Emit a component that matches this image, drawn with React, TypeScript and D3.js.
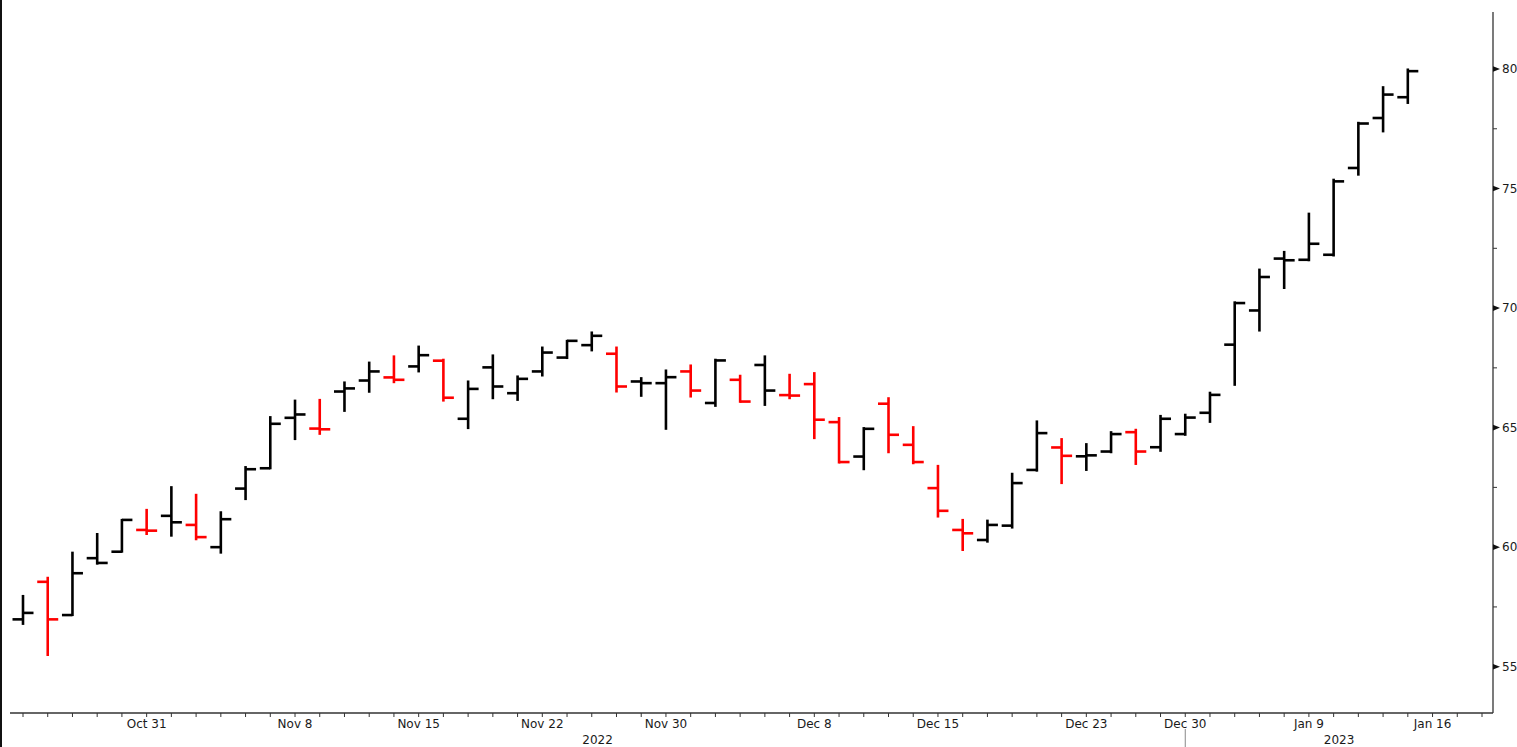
import React from "react";
import * as d3 from "d3";

const dates: string[] = [
  "2022-10-24","2022-10-25","2022-10-26","2022-10-27","2022-10-28",
  "2022-10-31","2022-11-01","2022-11-02","2022-11-03","2022-11-04",
  "2022-11-07","2022-11-08","2022-11-09","2022-11-10","2022-11-11",
  "2022-11-14","2022-11-15","2022-11-16","2022-11-17","2022-11-18",
  "2022-11-21","2022-11-22","2022-11-23","2022-11-25",
  "2022-11-28","2022-11-29","2022-11-30","2022-12-01","2022-12-02",
  "2022-12-05","2022-12-06","2022-12-07","2022-12-08","2022-12-09",
  "2022-12-12","2022-12-13","2022-12-14","2022-12-15","2022-12-16",
  "2022-12-19","2022-12-20","2022-12-21","2022-12-22","2022-12-23",
  "2022-12-27","2022-12-28","2022-12-29","2022-12-30",
  "2023-01-03","2023-01-04","2023-01-05","2023-01-06",
  "2023-01-09","2023-01-10","2023-01-11","2023-01-12","2023-01-13",
];
// axis continues past the last bar
const futureDates: string[] = ["2023-01-16", "2023-01-17", "2023-01-18"];

const open: number[] = [
  56.98, 58.55, 57.16, 59.54, 59.81,
  60.72, 61.31, 60.93, 60.0, 62.45,
  63.3, 65.41, 64.96, 66.51, 66.97,
  67.1, 67.56, 67.8, 65.37, 67.52,
  66.44, 67.35, 67.93, 68.45,
  68.09, 66.93, 66.86, 67.35, 66.03,
  67.0, 67.62, 66.36, 66.82, 65.23,
  63.79, 66.0, 64.28, 62.47, 60.72,
  60.3, 60.9, 63.23, 64.17, 63.8,
  64.0, 64.81, 64.18, 64.73,
  65.62, 68.47, 69.9, 72.07,
  72.02, 72.23, 75.86, 77.95, 78.82,
];
const high: number[] = [
  57.96, 58.72, 59.77, 60.55, 61.14,
  61.56, 62.51, 62.19, 61.46, 63.35,
  65.44, 66.13, 66.16, 66.89, 67.72,
  67.98, 68.39, 67.84, 66.93, 68.02,
  67.14, 68.35, 68.63, 68.98,
  68.35, 67.07, 67.39, 67.6, 67.84,
  67.17, 67.98, 67.21, 67.28, 65.4,
  64.98, 66.23, 65.02, 63.4, 61.14,
  61.11, 63.07, 65.26, 64.52, 64.31,
  64.81, 64.91, 65.49, 65.54,
  66.46, 70.24, 71.61, 72.35,
  73.95, 75.37, 77.75, 79.24, 79.98,
];
const low: number[] = [
  56.79, 55.49, 57.16, 59.31, 59.81,
  60.55, 60.48, 60.33, 59.77, 62.01,
  63.3, 64.52, 64.74, 65.7, 66.5,
  66.9, 67.35, 66.13, 64.98, 66.23,
  66.16, 67.18, 67.91, 68.23,
  66.51, 66.33, 64.95, 66.3, 65.91,
  66.08, 65.95, 66.23, 64.56, 63.54,
  63.26, 63.97, 63.51, 61.28, 59.88,
  60.23, 60.82, 63.2, 62.68, 63.23,
  63.97, 63.48, 64.03, 64.7,
  65.24, 66.79, 69.06, 70.84,
  72.0, 72.2, 75.58, 77.39, 78.58,
];
const close: number[] = [
  57.25, 56.98, 58.91, 59.34, 61.14,
  60.69, 61.04, 60.42, 61.17, 63.26,
  65.16, 65.55, 64.93, 66.64, 67.35,
  67.0, 68.03, 66.25, 66.62, 66.72,
  67.04, 68.14, 68.63, 68.84,
  66.72, 66.86, 67.11, 66.55, 67.81,
  66.09, 66.55, 66.34, 65.33, 63.56,
  64.95, 64.7, 63.56, 61.52, 60.58,
  60.93, 62.68, 64.77, 63.82, 63.84,
  64.73, 64.0, 65.37, 65.42,
  66.37, 70.21, 71.3, 72.0,
  72.69, 75.3, 77.72, 78.93, 79.91,
];

const labelDates: string[] = [
  "2022-10-31","2022-11-08","2022-11-15","2022-11-22","2022-11-30",
  "2022-12-08","2022-12-15","2022-12-23","2022-12-30","2023-01-09","2023-01-16",
];
const yMajorTicks: number[] = [55, 60, 65, 70, 75, 80];
const yMinorTicks: number[] = [57.5, 62.5, 67.5, 72.5, 77.5];
const yearLabels: string[] = ["2022", "2023"];
const yearBoundary = "2022-12-30";

const W = 1517;
const H = 747;
const AXIS_X = 1493;
const AXIS_Y = 713;
const FONT = "'DejaVu Sans', Verdana, sans-serif";

export default function App() {
  const allDates = [...dates, ...futureDates];
  const x = d3.scalePoint<string>().domain(allDates).range([23, 1482]);
  const y = d3.scaleLinear().domain([55, 80]).range([666.7, 69]);
  const parse = d3.timeParse("%Y-%m-%d");
  const fmt = d3.timeFormat("%b %-d");

  const tickLen = 10.5;
  const bars = dates.map((d, i) => {
    const cx = x(d) as number;
    const up = i === 0 || close[i] >= close[i - 1];
    const color = up ? "#000000" : "#ff0000";
    return (
      <g key={d} stroke={color} strokeWidth={2.6} fill="none">
        <line x1={cx} x2={cx} y1={y(high[i]) - 1} y2={y(low[i]) + 1} />
        <line x1={cx - tickLen} x2={cx} y1={y(open[i])} y2={y(open[i])} />
        <line x1={cx} x2={cx + tickLen} y1={y(close[i])} y2={y(close[i])} />
      </g>
    );
  });

  const bx = x(yearBoundary) as number;
  const yearCenters = [(10 + bx) / 2, (bx + AXIS_X) / 2];

  return (
    <svg
      width={W}
      height={H}
      style={{ position: "absolute", left: 0, top: 0, background: "#fff" }}
    >
      <rect x={0} y={0} width={W} height={H} fill="#fff" />
      {/* left border */}
      <line x1={1} x2={1} y1={0} y2={H} stroke="#111" strokeWidth={2} />

      {/* x axis */}
      <line x1={10} x2={AXIS_X} y1={AXIS_Y} y2={AXIS_Y} stroke="#333" strokeWidth={1.3} />
      {allDates.map((d) => (
        <line
          key={"xt" + d}
          x1={x(d) as number}
          x2={x(d) as number}
          y1={AXIS_Y}
          y2={AXIS_Y + 4}
          stroke="#333"
          strokeWidth={1}
        />
      ))}
      {labelDates.map((d) => (
        <text
          key={"xl" + d}
          x={x(d) as number}
          y={AXIS_Y + 15}
          textAnchor="middle"
          fontFamily={FONT}
          fontSize={12}
          fill="#1a1a1a"
        >
          {fmt(parse(d) as Date)}
        </text>
      ))}
      <line x1={bx} x2={bx} y1={729} y2={H} stroke="#888" strokeWidth={1} />
      {yearLabels.map((t, i) => (
        <text
          key={"yr" + t}
          x={yearCenters[i]}
          y={744}
          textAnchor="middle"
          fontFamily={FONT}
          fontSize={12}
          fill="#1a1a1a"
        >
          {t}
        </text>
      ))}

      {/* y axis */}
      <line x1={AXIS_X} x2={AXIS_X} y1={12} y2={AXIS_Y} stroke="#333" strokeWidth={1.3} />
      {yMinorTicks.map((v) => (
        <line
          key={"ym" + v}
          x1={AXIS_X}
          x2={AXIS_X + 4}
          y1={y(v)}
          y2={y(v)}
          stroke="#333"
          strokeWidth={1}
        />
      ))}
      {yMajorTicks.map((v) => (
        <g key={"yM" + v}>
          <path
            d={`M${AXIS_X},${y(v) - 2.8}L${AXIS_X + 7},${y(v)}L${AXIS_X},${y(v) + 2.8}Z`}
            fill="#111"
          />
          <text
            x={AXIS_X + 9}
            y={y(v)}
            dy="0.35em"
            fontFamily={FONT}
            fontSize={12}
            fill="#1a1a1a"
          >
            {v}
          </text>
        </g>
      ))}

      {bars}
    </svg>
  );
}
